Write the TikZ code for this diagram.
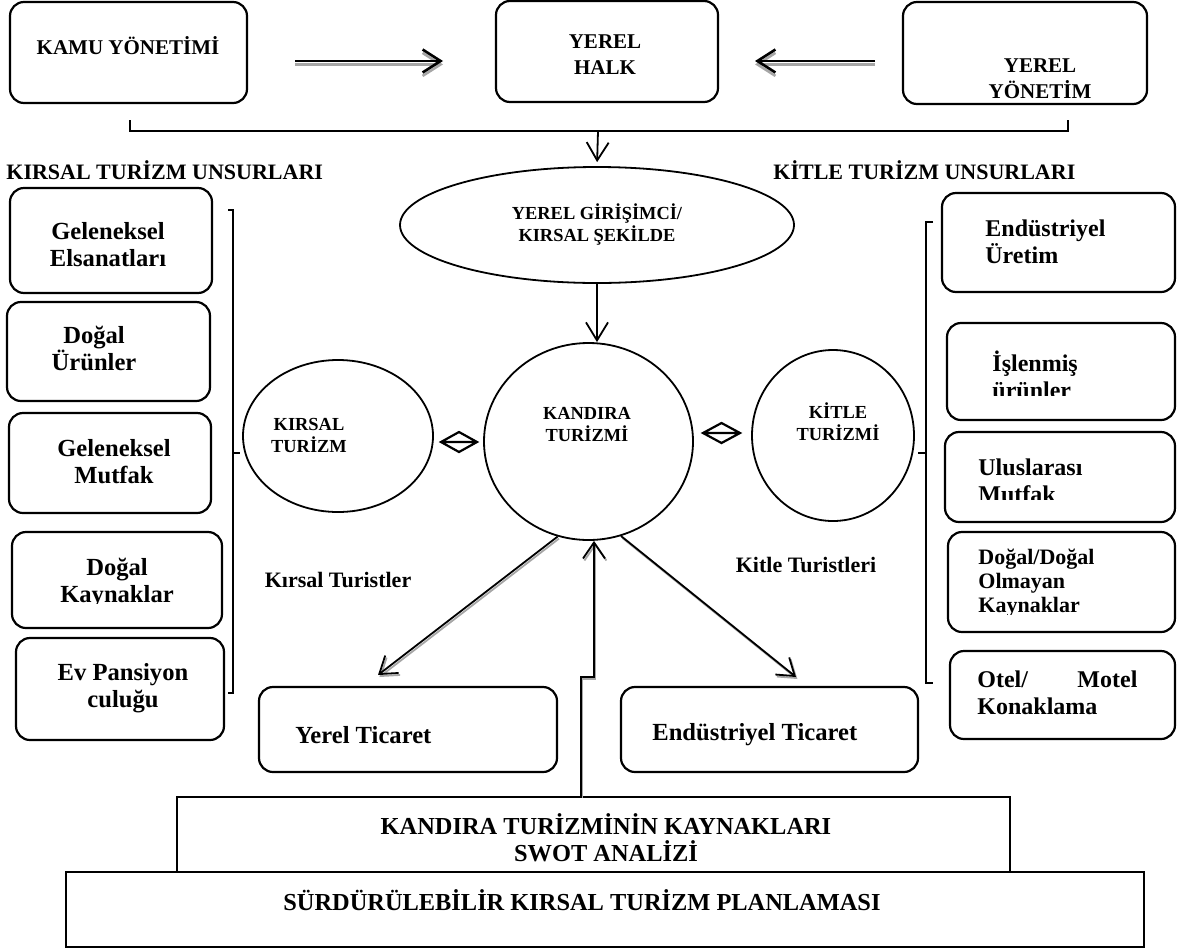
\documentclass[tikz,border=0pt]{standalone}
\usepackage{fontspec}
\setmainfont{Liberation Serif}
\usetikzlibrary{arrows.meta,shapes.geometric}
\begin{document}
\begin{tikzpicture}[x=0.5pt,y=-0.5pt,
  box/.style={draw, line width=1.1pt, rounded corners=7pt, inner sep=0pt},
  sbox/.style={draw, line width=0.9pt, inner sep=0pt},
  ell/.style={draw, ellipse, line width=0.9pt, inner sep=0pt},
  tbig/.style={font=\fontsize{12.3}{13.5}\selectfont\bfseries, align=center, inner sep=0pt},
  tleft/.style={font=\fontsize{12}{13.5}\selectfont\bfseries, align=left, inner sep=0pt},
  ttop/.style={font=\fontsize{10.5}{13}\selectfont\bfseries, align=center, inner sep=0pt},
  tell/.style={font=\fontsize{9.2}{11}\selectfont\bfseries, align=center, inner sep=0pt},
  thead/.style={font=\fontsize{11}{13}\selectfont\bfseries, inner sep=0pt},
  tlab/.style={font=\fontsize{11}{13}\selectfont\bfseries, inner sep=0pt},
  tbot/.style={font=\fontsize{12.2}{13.5}\selectfont\bfseries, align=center, inner sep=0pt},
  arr/.style={line width=0.9pt, -{Straight Barb[length=8pt,width=11pt]},
    preaction={draw=black!35, line width=0.9pt, -{Straight Barb[length=8pt,width=11pt]}, transform canvas={shift={(0.7pt,-1pt)}}}},
  bigarr/.style={line width=1.3pt, -{Straight Barb[length=9pt,width=11.5pt]},
    preaction={draw=black!35, line width=1.3pt, -{Straight Barb[length=9pt,width=11.5pt]}, transform canvas={shift={(0pt,-1.7pt)}}}},
  darr/.style={line width=0.9pt, -{Straight Barb[length=9pt,width=11pt]}},
  dia/.style={line width=1.1pt, line join=miter},
  brk/.style={line width=0.6pt},
]
\useasboundingbox (0,0) rectangle (1177,948);

% top boxes
\node[box, minimum width=118.5pt, minimum height=50.5pt] (kamu) at (128.5,52.5) {};
\node[ttop] at (128,46) {KAMU YÖNETİMİ};
\node[box, minimum width=111pt, minimum height=50.5pt] (halk) at (607,51.5) {};
\node[ttop] at (605,55) {YEREL\\HALK};
\node[box, minimum width=122pt, minimum height=51pt] (yon) at (1025,53) {};
\node[ttop] at (1040,79) {YEREL\\YÖNETİM};

\coordinate (a1) at (295,61);
\coordinate (a2) at (443,61);
\coordinate (a3) at (875,61);
\coordinate (a4) at (755,61);
\draw[bigarr] (a1) -- (a2);
\draw[bigarr] (a3) -- (a4);

% bracket under top row
\coordinate (bl) at (130,120);
\coordinate (br) at (1068,120);
\coordinate (bm) at (598,131);
\draw[brk] (bl) -- (bl |- bm) -- (br |- bm) -- (br);

% headings
\node[thead, anchor=west] at (6,170) {KIRSAL TURİZM UNSURLARI};
\node[thead, anchor=west] at (773,170) {KİTLE TURİZM UNSURLARI};

% ellipses
\node[ell, minimum width=197pt, minimum height=58pt] (gir) at (597,225) {};
\node[tell] at (597,225) {YEREL GİRİŞİMCİ/\\KIRSAL ŞEKİLDE};
\node[ell, minimum width=104.5pt, minimum height=98.5pt] (kan) at (588.5,441.5) {};
\node[tell] at (587,425) {KANDIRA\\TURİZMİ};
\node[ell, minimum width=95pt, minimum height=76pt] (kir) at (338,436) {};
\node[tell] at (309,435) {KIRSAL\\TURİZM};
\node[ell, minimum width=81pt, minimum height=85.5pt] (kit) at (833,435.5) {};
\node[tell] at (838,422) {KİTLE\\TURİZMİ};

\draw[darr, shorten >=2pt] (bm) -- (gir.north);
\draw[darr] (gir.south) -- (gir.south |- kan.north);

% diamonds
\coordinate (d1a) at (441,442);
\coordinate (d2a) at (703,433);
\draw[dia] (d1a) -- ++(18,-10) -- ++(18,10) -- ++(-18,10) -- cycle (d1a) -- ++(36,0);
\draw[dia] (d2a) -- ++(18.5,-10) -- ++(18.5,10) -- ++(-18.5,10) -- cycle (d2a) -- ++(37,0);

% left boxes
\node[box, minimum width=101pt, minimum height=52.5pt] (l1) at (111,240.5) {};
\node[tbig] at (108,245) {Geleneksel\\Elsanatları};
\node[box, minimum width=101.5pt, minimum height=49.5pt] (l2) at (108.5,351.5) {};
\node[tbig] at (94,348) {Doğal\\Ürünler};
\node[box, minimum width=101pt, minimum height=50pt] (l3) at (110,463) {};
\node[tbig] at (114,462) {Geleneksel\\Mutfak};
\node[box, minimum width=105pt, minimum height=48pt] (l4) at (117,580) {};
\begin{scope}
\clip (20,540) rectangle (215,603);
\node[tbig] at (117,583) {Doğal\\Kaynaklar};
\end{scope}
\node[box, minimum width=104pt, minimum height=51pt] (l5) at (120,689) {};
\node[tbig] at (123,688) {Ev Pansiyon\\culuğu};

% left bracket
\coordinate (lb1) at (228,210);
\coordinate (lb2) at (233,693);
\coordinate (lbm) at (240,453);
\draw[brk] (lb1) -- (lb1 -| lb2) -- (lb2) -- (lb1 |- lb2);
\draw[brk] (lb2 |- lbm) -- (lbm);

% right boxes
\node[box, minimum width=116.5pt, minimum height=49.5pt] (r1) at (1058.5,242.5) {};
\node[tleft, anchor=west] at (985,242) {Endüstriyel\\Üretim};
\node[box, minimum width=114pt, minimum height=48.5pt] (r2) at (1061,371.5) {};
\begin{scope}
\clip (950,330) rectangle (1170,395);
\node[tleft, anchor=north west] at (992,351) {İşlenmiş\\ürünler};
\end{scope}
\node[box, minimum width=115pt, minimum height=45pt] (r3) at (1060,477) {};
\begin{scope}
\clip (950,440) rectangle (1170,499);
\node[tleft, anchor=north west] at (978,458) {Uluslarası\\Mutfak};
\end{scope}
\node[box, minimum width=113.5pt, minimum height=50pt] (r4) at (1061.5,582) {};
\begin{scope}
\clip (950,540) rectangle (1170,614);
\node[tleft, anchor=west, font=\fontsize{11}{12}\selectfont\bfseries] at (978,583) {Doğal/Doğal\\Olmayan\\Kaynaklar};
\end{scope}
\node[box, minimum width=112.5pt, minimum height=44pt] (r5) at (1062.5,695) {};
\node[tleft, anchor=west] at (977,693) {\hbox to 80pt{Otel/\hfill Motel}\\Konaklama};

% right bracket
\coordinate (rb1) at (933,222);
\coordinate (rb2) at (926,683);
\coordinate (rbm) at (918,453);
\draw[brk] (rb1) -- (rb1 -| rb2) -- (rb2) -- (rb1 |- rb2);
\draw[brk] (rb2 |- rbm) -- (rbm);

% tourist labels
\node[tlab] at (338,580) {Kırsal Turistler};
\node[tlab] at (806,565) {Kitle Turistleri};

% bottom boxes
\node[box, minimum width=149pt, minimum height=42.5pt] (yt) at (408,729.5) {};
\node[tbig, anchor=west] at (295,735) {Yerel Ticaret};
\node[box, minimum width=148.5pt, minimum height=42.5pt] (et) at (769.5,729.5) {};
\node[tbig, anchor=west] at (652,735) {Endüstriyel Ticaret};

\node[sbox, minimum width=416.5pt, minimum height=37.5pt] (swot) at (593.5,834.5) {};
\node[tbot] at (606,838) {KANDIRA TURİZMİNİN KAYNAKLARI\\SWOT ANALİZİ};
\node[sbox, minimum width=539pt, minimum height=37.5pt] (plan) at (605,909.5) {};
\node[tbot] at (582,900) {SÜRDÜRÜLEBİLİR KIRSAL TURİZM PLANLAMASI};

% arrows from KANDIRA
\coordinate (t1) at (378,675);
\coordinate (t2) at (796,677);
\draw[arr] (kan.252) -- (t1);
\draw[arr] (kan.289) -- (t2);
\coordinate (j1) at (581,677);
\coordinate (j2) at (594,677);
\draw[arr] (swot.north -| j1) -- (j1) -- (j2) -- (kan.south -| j2);
\end{tikzpicture}
\end{document}
